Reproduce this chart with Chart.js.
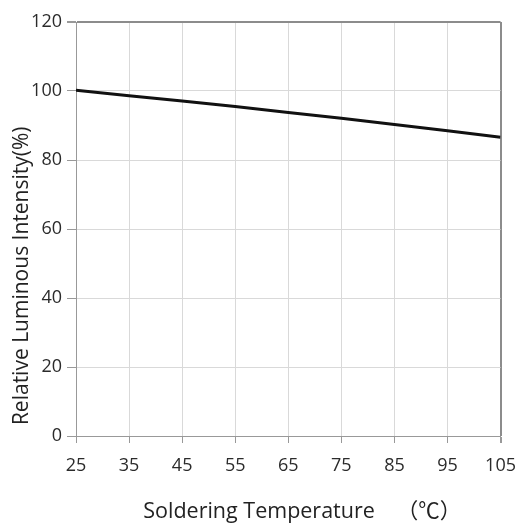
<!DOCTYPE html>
<html>
<head>
<meta charset="utf-8">
<script src="https://cdn.jsdelivr.net/npm/chart.js@4/dist/chart.umd.min.js"></script>
<style>
  html, body { margin: 0; padding: 0; background: #fff; }
  #wrap { width: 528px; height: 527px; position: relative; }
</style>
</head>
<body>
<div id="wrap"><canvas id="myPlot"></canvas></div>
<script>
// soldering temperature (C) vs relative luminous intensity (%)
const temperature = [25, 35, 45, 55, 65, 75, 85, 95, 105];
const intensity = [100.2, 98.6, 97.1, 95.5, 93.8, 92.1, 90.3, 88.5, 86.6];

const yTicks = [0, 20, 40, 60, 80, 100, 120];
const xTitle = '     Soldering Temperature  \u3000（℃）';
const yTitle = '  Relative Luminous Intensity(%)';

const points = temperature.map((t, i) => ({ x: t, y: intensity[i] }));

const tickFont = { family: "'Open Sans', 'Liberation Sans', sans-serif", size: 18 };

new Chart(document.getElementById('myPlot'), {
    type: 'line',
    data: {
        datasets: [{
            data: points,
            borderColor: '#111',
            borderWidth: 3,
            pointRadius: 0,
            tension: 0
        }]
    },
    options: {
        animation: false,
        responsive: true,
        maintainAspectRatio: false,
        layout: {
            padding: { top: 22, right: 26, left: 0, bottom: 0 }
        },
        plugins: {
            legend: { display: false },
            tooltip: { enabled: false }
        },
        scales: {
            x: {
                type: 'linear',
                min: 25,
                max: 105,
                ticks: {
                    stepSize: 10,
                    autoSkip: false,
                    maxRotation: 0,
                    padding: 12,
                    color: '#2b2b2b',
                    font: tickFont
                },
                grid: {
                    color: (ctx) => ctx.tick && ctx.tick.value === 105 ? '#8c8c8c' : '#d9d9d9',
                    tickColor: '#999',
                    tickLength: 7,
                    lineWidth: (ctx) => ctx.tick && ctx.tick.value === 105 ? 2 : 1
                },
                border: { color: '#999', width: 1 },
                title: {
                    display: true,
                    text: xTitle,
                    color: '#222',
                    padding: { top: 0, bottom: 2 },
                    font: { family: "'Open Sans', 'Noto Sans CJK SC', sans-serif", size: 21.5 }
                },
                afterFit(scale) { scale.height = 91; }
            },
            y: {
                min: 0,
                max: 120,
                afterBuildTicks(scale) {
                    scale.ticks = yTicks.map(v => ({ value: v }));
                },
                ticks: {
                    padding: 5,
                    color: '#2b2b2b',
                    font: tickFont
                },
                grid: {
                    color: (ctx) => ctx.tick && ctx.tick.value === 120 ? '#8c8c8c' : '#d9d9d9',
                    tickColor: '#999',
                    tickLength: 9,
                    lineWidth: (ctx) => ctx.tick && ctx.tick.value === 120 ? 2 : 1
                },
                border: { color: '#999', width: 1 },
                title: {
                    display: true,
                    text: yTitle,
                    align: 'start',
                    color: '#222',
                    padding: { top: 9, bottom: 0 },
                    font: { family: "'Open Sans', 'Liberation Sans', sans-serif", size: 21 }
                },
                afterFit(scale) { scale.width = 76; }
            }
        }
    }
});
</script>
</body>
</html>
